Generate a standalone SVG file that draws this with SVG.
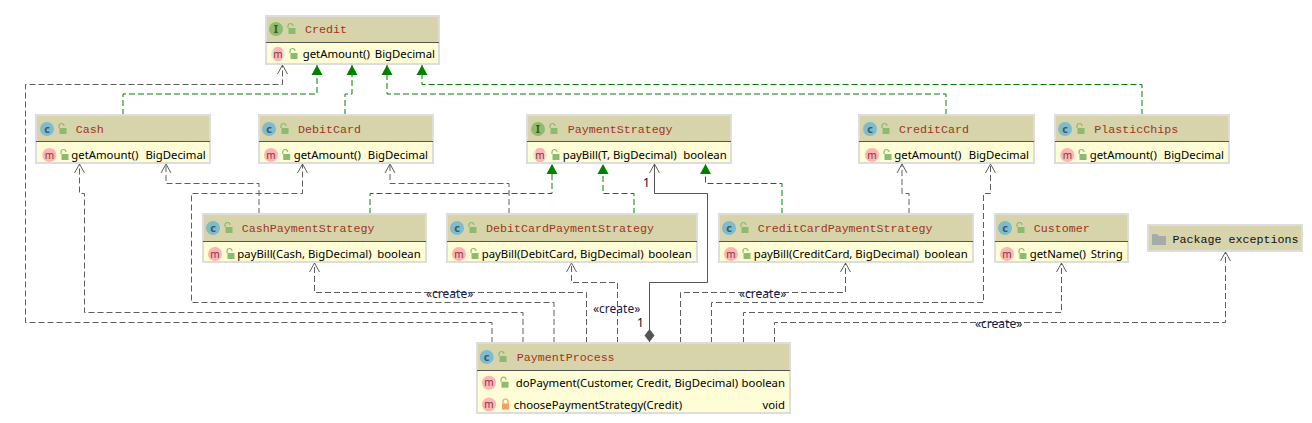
<svg xmlns="http://www.w3.org/2000/svg" xmlns:xlink="http://www.w3.org/1999/xlink" width="1312" height="423" viewBox="0 0 1312 423">
<style>
.box{fill:#FFFDD5;stroke:#DDDDDD;stroke-width:2}
.hd{fill:#D7D4AB}
.sep{stroke:#555555;stroke-width:1}
.t{font:11.67px "Liberation Mono",monospace;fill:#A0341A}
.p{font:11.67px "Liberation Mono",monospace;fill:#111111}
.m{font:11.35px "Noto Sans",sans-serif;fill:#000000}
.e{text-anchor:end}
.lab{font:12px "Noto Sans",sans-serif;fill:#1A1A4A}
.one{font:12px "Noto Sans",sans-serif;fill:#111111}
.ic{font:bold 11px "Noto Sans",sans-serif;text-anchor:middle;fill:#3A5A66}
.im{font:10px "Noto Sans",sans-serif;text-anchor:middle;fill:#7A3A3A}
.d{fill:none;stroke:#5E5E5E;stroke-width:1;stroke-dasharray:6 3;marker-end:url(#open)}
.g{fill:none;stroke:#008000;stroke-width:1;stroke-dasharray:6 3;marker-end:url(#tri)}
.s{fill:none;stroke:#555555;stroke-width:1}
</style>
<defs>
<marker id="open" markerUnits="userSpaceOnUse" markerWidth="14" markerHeight="14" refX="11" refY="7" orient="auto"><path d="M2,2 L11,7 L2,12" fill="none" stroke="#5E5E5E" stroke-width="1"/></marker>
<marker id="tri" markerUnits="userSpaceOnUse" markerWidth="14" markerHeight="14" refX="11" refY="7" orient="auto"><path d="M1,1.5 L11,7 L1,12.500 Z" fill="#008000"/></marker>
<marker id="dia" markerUnits="userSpaceOnUse" markerWidth="16" markerHeight="12" refX="1" refY="6" orient="auto"><path d="M1,6 L7.500,1 L14,6 L7.500,11 Z" fill="#555555"/></marker>
<g id="lk"><rect x="-2.500" y="-1" width="7" height="6" fill="#8ABB6E"/><path d="M-3,-1 V-3 a2.500,2.500 0 0 1 5,0" fill="none" stroke="#8ABB6E" stroke-width="1.200"/></g>
<g id="lko"><rect x="-3" y="-1" width="7" height="6" fill="#F0A060"/><path d="M-2,-1 V-3 a2.500,2.500 0 0 1 5,0 V-1" fill="none" stroke="#F0A060" stroke-width="1.200"/></g>
<g id="ic"><circle r="7" fill="#7DBBCF"/><text y="3.500" class="ic">c</text></g>
<g id="ii"><circle r="7" fill="#8FBC6E"/><text y="3.500" class="ic" style="fill:#3A5A2A">I</text></g>
<g id="im"><circle r="7" fill="#FFB3B3"/><text y="3.500" class="im">m</text></g>
<g id="ia"><circle r="7" fill="#E6E6E0"/><rect x="-4.500" y="-7" width="9" height="14" rx="4" fill="#FFB3B3"/><text y="3.500" class="im">m</text></g>
</defs>
<rect width="1312" height="423" fill="#FFFFFF"/>

<g id="connectors">
<path class="g" d="M123,115 V94 H317 V65"/>
<path class="g" d="M345,115 V94 H352 V65"/>
<path class="g" d="M946,115 V94 H387 V65"/>
<path class="g" d="M1142,115 V84.500 H422 V65"/>
<path class="g" d="M370,214 V193.500 H552 V164"/>
<path class="g" d="M634,214 V193.500 H603 V164"/>
<path class="g" d="M782,214 V183.500 H705.500 V164"/>
<path class="d" d="M259,214 V183.500 H166 V164"/>
<path class="d" d="M509,214 V183.500 H390 V164"/>
<path class="d" d="M909,214 V193.500 H902 V164"/>
<path class="d" d="M492,343 V322.500 H25.500 V84.500 H282.500 V65"/>
<path class="d" d="M523,343 V312.500 H84.500 V193.500 H79.500 V164"/>
<path class="d" d="M554,343 V302.500 H191.500 V193.500 H302.500 V164"/>
<path class="d" d="M586.500,343 V292.500 H314.500 V263"/>
<path class="d" d="M617.500,343 V282.500 H571.500 V263"/>
<path class="d" d="M680.500,343 V292.500 H845.500 V263"/>
<path class="d" d="M711.500,343 V302.500 H983.500 V193.500 H990.500 V164"/>
<path class="d" d="M743.500,343 V312.500 H1061.500 V263"/>
<path class="d" d="M774.500,343 V322.500 H1225.500 V252"/>
<path class="s" d="M649.500,342 V282.500 H707.500 V193.500 H654.500 V164" style="marker-start:url(#dia);marker-end:url(#open)"/>
<text class="lab" x="426" y="298">«create»</text>
<text class="lab" x="593" y="313">«create»</text>
<text class="lab" x="739" y="298">«create»</text>
<text class="lab" x="975" y="328">«create»</text>
<text class="one" x="643" y="187">1</text>
<text class="one" x="637" y="327">1</text>
</g>

<g id="Credit"><rect class="box" x="266" y="16" width="173" height="48"/><rect class="hd" x="267" y="17" width="171" height="26"/><line class="sep" x1="266" x2="439" y1="42.500" y2="42.500"/>
<use href="#ii" x="276" y="29"/><use href="#lk" x="291" y="29"/><text class="t" x="305" y="33">Credit</text>
<use href="#ia" x="278" y="54"/><use href="#lk" x="293" y="54"/><text class="m" x="302.700" y="58">getAmount()</text><text class="m e" x="435" y="58">BigDecimal</text></g>

<g id="Cash"><rect class="box" x="36" y="115" width="174" height="48"/><rect class="hd" x="37" y="116" width="172" height="26"/><line class="sep" x1="36" x2="210" y1="141.500" y2="141.500"/>
<use href="#ic" x="47" y="129"/><use href="#lk" x="62" y="129"/><text class="t" x="75.700" y="133">Cash</text>
<use href="#im" x="49.300" y="155"/><use href="#lk" x="64" y="155"/><text class="m" x="71.300" y="159">getAmount()</text><text class="m e" x="205.700" y="159">BigDecimal</text></g>

<g id="DebitCard"><rect class="box" x="259" y="115" width="174" height="48"/><rect class="hd" x="260" y="116" width="172" height="26"/><line class="sep" x1="259" x2="433" y1="141.500" y2="141.500"/>
<use href="#ic" x="269" y="129"/><use href="#lk" x="284" y="129"/><text class="t" x="298" y="133">DebitCard</text>
<use href="#im" x="271" y="155"/><use href="#lk" x="285.700" y="155"/><text class="m" x="293.700" y="159">getAmount()</text><text class="m e" x="428" y="159">BigDecimal</text></g>

<g id="PaymentStrategy"><rect class="box" x="527" y="115" width="204" height="48"/><rect class="hd" x="528" y="116" width="202" height="26"/><line class="sep" x1="527" x2="731" y1="141.500" y2="141.500"/>
<use href="#ii" x="538" y="129"/><use href="#lk" x="553" y="129"/><text class="t" x="567.700" y="133">PaymentStrategy</text>
<use href="#ia" x="540" y="155"/><use href="#lk" x="555" y="155"/><text class="m" x="562.700" y="159">payBill(T, BigDecimal)</text><text class="m e" x="726.700" y="159">boolean</text></g>

<g id="CreditCard"><rect class="box" x="859" y="115" width="175" height="48"/><rect class="hd" x="860" y="116" width="173" height="26"/><line class="sep" x1="859" x2="1034" y1="141.500" y2="141.500"/>
<use href="#ic" x="870" y="129"/><use href="#lk" x="885" y="129"/><text class="t" x="899" y="133">CreditCard</text>
<use href="#im" x="872" y="155"/><use href="#lk" x="887" y="155"/><text class="m" x="894.300" y="159">getAmount()</text><text class="m e" x="1029" y="159">BigDecimal</text></g>

<g id="PlasticChips"><rect class="box" x="1055" y="115" width="174" height="48"/><rect class="hd" x="1056" y="116" width="172" height="26"/><line class="sep" x1="1055" x2="1229" y1="141.500" y2="141.500"/>
<use href="#ic" x="1065" y="129"/><use href="#lk" x="1080" y="129"/><text class="t" x="1094.300" y="133">PlasticChips</text>
<use href="#im" x="1067.300" y="155"/><use href="#lk" x="1082" y="155"/><text class="m" x="1089.700" y="159">getAmount()</text><text class="m e" x="1224" y="159">BigDecimal</text></g>

<g id="CashPaymentStrategy"><rect class="box" x="203" y="214" width="223" height="48"/><rect class="hd" x="204" y="215" width="221" height="26"/><line class="sep" x1="203" x2="426" y1="241.500" y2="241.500"/>
<use href="#ic" x="213" y="228"/><use href="#lk" x="228" y="228"/><text class="t" x="241.700" y="232">CashPaymentStrategy</text>
<use href="#im" x="215" y="254"/><use href="#lk" x="230" y="254"/><text class="m" x="237.300" y="258">payBill(Cash, BigDecimal)</text><text class="m e" x="420.700" y="258">boolean</text></g>

<g id="DebitCardPaymentStrategy"><rect class="box" x="447" y="214" width="250" height="48"/><rect class="hd" x="448" y="215" width="248" height="26"/><line class="sep" x1="447" x2="697" y1="241.500" y2="241.500"/>
<use href="#ic" x="457" y="228"/><use href="#lk" x="472" y="228"/><text class="t" x="486" y="232">DebitCardPaymentStrategy</text>
<use href="#im" x="459" y="254"/><use href="#lk" x="474" y="254"/><text class="m" x="481.700" y="258">payBill(DebitCard, BigDecimal)</text><text class="m e" x="691.700" y="258">boolean</text></g>

<g id="CreditCardPaymentStrategy"><rect class="box" x="719" y="214" width="254" height="48"/><rect class="hd" x="720" y="215" width="252" height="26"/><line class="sep" x1="719" x2="973" y1="241.500" y2="241.500"/>
<use href="#ic" x="729" y="228"/><use href="#lk" x="744" y="228"/><text class="t" x="757.700" y="232">CreditCardPaymentStrategy</text>
<use href="#im" x="731" y="254"/><use href="#lk" x="746" y="254"/><text class="m" x="753.700" y="258">payBill(CreditCard, BigDecimal)</text><text class="m e" x="967.700" y="258">boolean</text></g>

<g id="Customer"><rect class="box" x="995" y="214" width="133" height="48"/><rect class="hd" x="996" y="215" width="131" height="26"/><line class="sep" x1="995" x2="1128" y1="241.500" y2="241.500"/>
<use href="#ic" x="1005" y="228"/><use href="#lk" x="1020" y="228"/><text class="t" x="1033.700" y="232">Customer</text>
<use href="#im" x="1007" y="254"/><use href="#lk" x="1022" y="254"/><text class="m" x="1029.700" y="258">getName()</text><text class="m e" x="1122.700" y="258">String</text></g>

<g id="PackageExceptions"><rect x="1148" y="225" width="154" height="26" fill="#D7D4AB" stroke="#DDDDDD" stroke-width="2"/>
<path d="M1152,234 h5 l2,2 h7 v9 h-14 z" fill="#A3ACA8"/><text class="p" x="1172.500" y="243">Package exceptions</text></g>

<g id="PaymentProcess"><rect class="box" x="477" y="343" width="313" height="70"/><rect class="hd" x="478" y="344" width="311" height="26"/><line class="sep" x1="477" x2="790" y1="370.500" y2="370.500"/>
<use href="#ic" x="486.700" y="357"/><use href="#lk" x="502" y="357"/><text class="t" x="516.700" y="361">PaymentProcess</text>
<use href="#im" x="489" y="382.700"/><use href="#lk" x="504" y="382.700"/><text class="m" x="515.700" y="387">doPayment(Customer, Credit, BigDecimal)</text><text class="m e" x="785" y="387">boolean</text>
<use href="#im" x="489" y="404.500"/><use href="#lko" x="505" y="404.500"/><text class="m" x="513.700" y="409">choosePaymentStrategy(Credit)</text><text class="m e" x="785" y="409">void</text></g>
</svg>
